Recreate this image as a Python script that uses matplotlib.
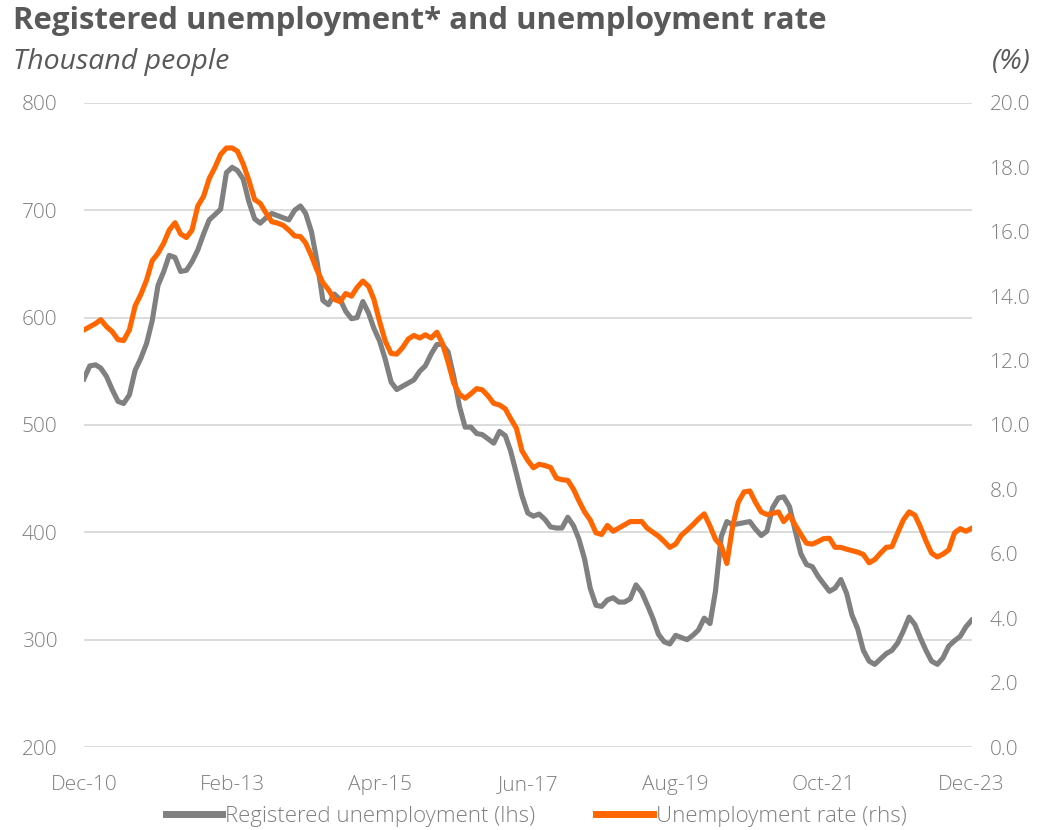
import numpy as np
import pandas as pd
import matplotlib
matplotlib.use("Agg")
import matplotlib.pyplot as plt
import matplotlib.dates as mdates
from matplotlib.ticker import FormatStrFormatter

plt.rcParams['font.family'] = ['Open Sans', 'DejaVu Sans']

# monthly data, Dec-2010 .. Dec-2023
dates = pd.date_range("2010-12-01", "2023-12-01", freq="MS")

# registered unemployment, thousand people (lhs)
registered = [
    543, 555, 556, 553, 545, 533, 522, 520, 528, 551, 562, 576, 597, 630, 643, 658,
    656, 643, 644, 652, 663, 678, 691, 696, 701, 735, 740, 737, 729, 708, 692, 688,
    693, 697, 695, 693, 691, 700, 704, 697, 680, 652, 616, 612, 622, 617, 606, 599,
    600, 615, 604, 590, 578, 561, 540, 533, 536, 539, 542, 550, 555, 566, 575, 575,
    568, 545, 517, 498, 498, 492, 491, 487, 483, 494, 490, 476, 455, 434, 418, 415,
    417, 412, 405, 404, 404, 414, 406, 394, 375, 348, 332, 331, 337, 339, 335, 335,
    338, 351, 344, 333, 320, 305, 298, 296, 304, 302, 300, 304, 309, 320, 315, 345,
    396, 410, 407, 408, 409, 410, 403, 397, 401, 423, 432, 433, 424, 402, 380, 370,
    368, 359, 352, 345, 348, 356, 343, 323, 310, 290, 280, 277, 282, 287, 290, 297,
    308, 321, 314, 302, 290, 280, 277, 283, 294, 299, 303, 312, 318,
]

# unemployment rate, % (rhs)
rate = [
    12.95, 13.05, 13.15, 13.27, 13.05, 12.9, 12.65, 12.62, 12.95, 13.7, 14.05, 14.5,
    15.1, 15.33, 15.65, 16.05, 16.28, 15.93, 15.82, 16.05, 16.8, 17.1, 17.65, 18.0,
    18.4, 18.6, 18.6, 18.5, 18.1, 17.6, 17.0, 16.88, 16.58, 16.31, 16.27, 16.2,
    16.05, 15.87, 15.85, 15.65, 15.25, 14.8, 14.42, 14.2, 13.9, 13.83, 14.08, 14.0,
    14.27, 14.47, 14.3, 13.9, 13.2, 12.6, 12.22, 12.2, 12.4, 12.67, 12.78, 12.7,
    12.8, 12.7, 12.88, 12.54, 11.95, 11.3, 10.95, 10.83, 10.97, 11.13, 11.09, 10.9,
    10.67, 10.62, 10.5, 10.2, 9.9, 9.2, 8.9, 8.67, 8.78, 8.74, 8.68, 8.35,
    8.3, 8.28, 8.0, 7.65, 7.3, 7.05, 6.65, 6.6, 6.88, 6.7, 6.8, 6.9,
    7.0, 7.0, 7.0, 6.8, 6.67, 6.55, 6.38, 6.2, 6.3, 6.58, 6.73, 6.9,
    7.08, 7.24, 6.86, 6.45, 6.25, 5.7, 6.85, 7.6, 7.92, 7.95, 7.6, 7.3,
    7.22, 7.25, 7.3, 7.0, 7.2, 6.9, 6.6, 6.33, 6.3, 6.38, 6.47, 6.48,
    6.2, 6.2, 6.14, 6.1, 6.05, 5.98, 5.72, 5.82, 6.02, 6.2, 6.22, 6.65,
    7.05, 7.3, 7.2, 6.85, 6.4, 6.02, 5.9, 5.99, 6.12, 6.65, 6.78, 6.7, 6.79,
]

grey = '#808080'
orange = '#FF6600'
txt = '#595959'
lbl = '#808080'

fig = plt.figure(figsize=(10.43, 8.30), dpi=100)
ax = fig.add_axes([0.0805, 0.1, 0.851, 0.776])
ax2 = ax.twinx()

l1, = ax.plot(dates, registered, color=grey, lw=3.7, solid_joinstyle='round',
              label='Registered unemployment (lhs)', zorder=3)
l2, = ax2.plot(dates, rate, color=orange, lw=3.7, solid_joinstyle='round',
               label='Unemployment rate (rhs)', zorder=3)

ax.set_ylim(200, 800)
ax.set_yticks(np.arange(200, 801, 100))
ax2.set_ylim(0, 20)
ax2.set_yticks(np.arange(0, 20.1, 2))
ax2.yaxis.set_major_formatter(FormatStrFormatter('%.1f'))

ax.set_xlim(dates[0], dates[-1])
ax.set_xticks(dates[::26])
ax.xaxis.set_major_formatter(mdates.DateFormatter('%b-%y'))

ax.grid(axis='y', color='#d9d9d9', lw=1.3)
ax.set_axisbelow(True)
for a in (ax, ax2):
    for s in a.spines.values():
        s.set_visible(False)
ax.tick_params(axis='y', length=0, pad=19, labelsize=15, labelcolor=lbl)
ax.tick_params(axis='x', length=0, pad=20, labelsize=15, labelcolor=lbl)
ax2.tick_params(axis='y', length=0, pad=13, labelsize=15, labelcolor=lbl)
for t in ax.get_xticklabels() + ax.get_yticklabels() + ax2.get_yticklabels():
    t.set_fontweight('light')

fig.text(0.012, 0.975, 'Registered unemployment* and unemployment rate',
         fontsize=22.4, fontweight='bold', color=txt, va='center', ha='left')
fig.text(0.012, 0.925, 'Thousand people', fontsize=20.5, style='italic',
         color=txt, va='center', ha='left')
fig.text(0.988, 0.925, '(%)', fontsize=20.5, style='italic',
         color=txt, va='center', ha='right')

leg = fig.legend(handles=[l1, l2], loc='center', bbox_to_anchor=(0.514, 0.016),
                 ncol=2, frameon=False, handlelength=2.55,
                 handletextpad=0.12, columnspacing=2.75,
                 prop={'size': 16, 'weight': 'light'})
for t in leg.get_texts():
    t.set_color(lbl)
for h in leg.get_lines():
    h.set_linewidth(5)

fig.savefig('out.png', dpi=100)
